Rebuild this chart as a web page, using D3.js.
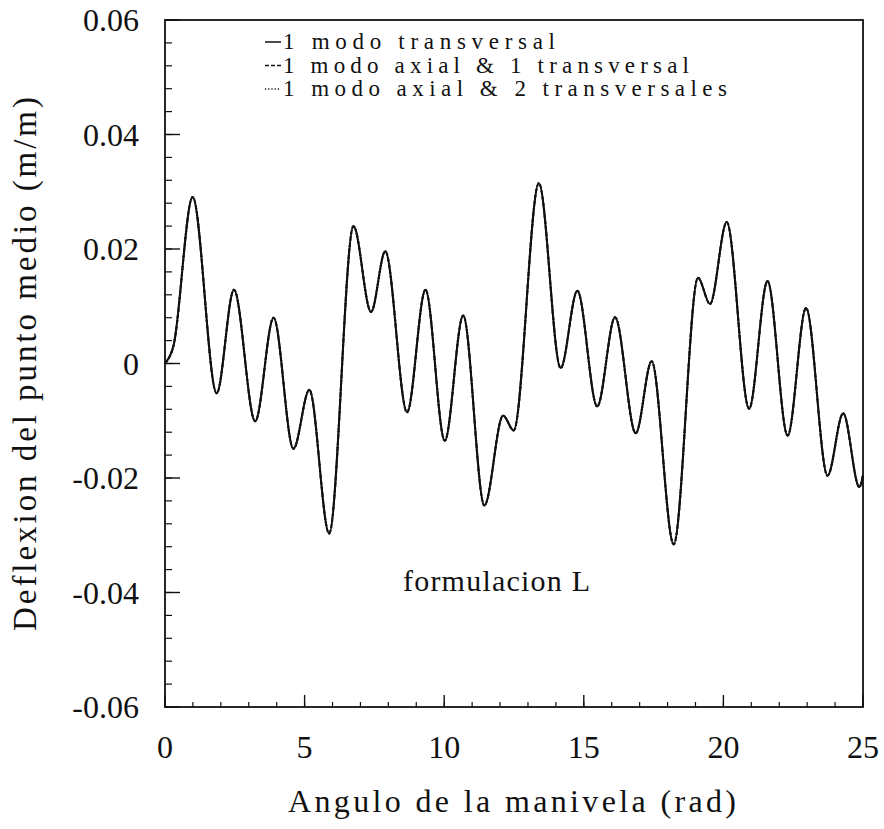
<!DOCTYPE html>
<html>
<head>
<meta charset="utf-8">
<script src="https://cdn.jsdelivr.net/npm/d3@7"></script>
<style>
  html, body { margin: 0; padding: 0; background: #fff; }
  svg { display: block; }
</style>
</head>
<body>
<div id="chart"></div>
<script>
// ----- DATA -----
const angle = [0, 0.30, 0.99, 1.85, 2.47, 3.23, 3.89, 4.60, 5.17, 5.88,
  6.75, 7.38, 7.89, 8.67, 9.33, 10.02, 10.68, 11.44, 12.11, 12.49,
  13.39, 14.17, 14.77, 15.48, 16.12, 16.86, 17.43, 18.22, 19.09, 19.52,
  20.12, 20.92, 21.58, 22.30, 22.96, 23.73, 24.29, 24.87, 25.0];
const deflexion = [0, 0.0030, 0.0291, -0.0052, 0.0129, -0.0101, 0.0080, -0.0149, -0.0046, -0.0297,
  0.0240, 0.0090, 0.0196, -0.0085, 0.0129, -0.0135, 0.0084, -0.0248, -0.0091, -0.0117,
  0.0315, -0.0008, 0.0127, -0.0075, 0.0081, -0.0122, 0.0004, -0.0316, 0.0150, 0.0104,
  0.0247, -0.0079, 0.0144, -0.0126, 0.0097, -0.0196, -0.0087, -0.0216, -0.0195];

// the three curves lie on top of each other in the figure
const seriesNames = ["1 modo transversal", "1 modo axial & 1 transversal", "1 modo axial & 2 transversales"];
const seriesDash = [null, "4,2", "1.2,2"];

const xTicks = [0, 5, 10, 15, 20, 25];
const yTicks = [-0.06, -0.04, -0.02, 0, 0.02, 0.04, 0.06];

const W = 884, H = 829;
const margin = {left: 165, right: 21, top: 20, bottom: 122};
const FONT = "'Liberation Serif', 'Times New Roman', Tinos, 'DejaVu Serif', serif";

const svg = d3.select("#chart").append("svg")
    .attr("width", W).attr("height", H)
    .attr("font-family", FONT)
    .style("font-family", FONT);

const x = d3.scaleLinear().domain([0, 25]).range([margin.left, W - margin.right]);
const y = d3.scaleLinear().domain([-0.06, 0.06]).range([H - margin.bottom, margin.top]);

// minor + major ticks, pointing inward
const xMinor = d3.range(0, 25.001, 1);
const yMinor = d3.range(-0.06, 0.0601, 0.004);

const ax = svg.append("g").attr("stroke", "#111");
ax.selectAll(".xmin").data(xMinor).enter().append("line")
    .attr("x1", d => x(d)).attr("x2", d => x(d))
    .attr("y1", y(-0.06)).attr("y2", y(-0.06) - 5)
    .attr("stroke-width", 1.2);
ax.selectAll(".xmaj").data(xTicks).enter().append("line")
    .attr("x1", d => x(d)).attr("x2", d => x(d))
    .attr("y1", y(-0.06)).attr("y2", y(-0.06) - 12)
    .attr("stroke-width", 1.4);
ax.selectAll(".ymin").data(yMinor).enter().append("line")
    .attr("x1", x(0)).attr("x2", x(0) + 7)
    .attr("y1", d => y(d)).attr("y2", d => y(d))
    .attr("stroke-width", 1.2);
ax.selectAll(".ymaj").data(yTicks).enter().append("line")
    .attr("x1", x(0)).attr("x2", x(0) + 15)
    .attr("y1", d => y(d)).attr("y2", d => y(d))
    .attr("stroke-width", 1.4);

// frame
svg.append("rect")
    .attr("x", x(0)).attr("y", y(0.06))
    .attr("width", x(25) - x(0)).attr("height", y(-0.06) - y(0.06))
    .attr("fill", "none").attr("stroke", "#111").attr("stroke-width", 1.8);

// tick labels
svg.selectAll(".xl").data(xTicks).enter().append("text")
    .attr("x", d => x(d)).attr("y", 758)
    .attr("text-anchor", "middle").attr("font-size", 32).attr("fill", "#111")
    .text(d => d);
svg.selectAll(".yl").data(yTicks).enter().append("text")
    .attr("x", 139).attr("y", d => y(d)).attr("dy", "0.35em")
    .attr("text-anchor", "end").attr("font-size", 32).attr("fill", "#111")
    .text(d => d === 0 ? "0" : d.toFixed(2));

// axis titles
svg.append("text")
    .attr("x", 512).attr("y", 812)
    .attr("text-anchor", "middle").attr("font-size", 32).attr("fill", "#111")
    .attr("textLength", 448).attr("lengthAdjust", "spacing")
    .text("Angulo de la manivela (rad)");
svg.append("text")
    .attr("transform", "translate(36,364) rotate(-90)")
    .attr("text-anchor", "middle").attr("font-size", 33).attr("fill", "#111")
    .attr("textLength", 534).attr("lengthAdjust", "spacing")
    .text("Deflexion del punto medio (m/m)");

// annotation
svg.append("text")
    .attr("x", 403).attr("y", 591)
    .attr("font-size", 30).attr("fill", "#111")
    .attr("textLength", 187).attr("lengthAdjust", "spacing")
    .text("formulacion L");

// curves
const pts = angle.map((a, i) => [a, deflexion[i]]);
const line = d3.line()
    .x(d => x(d[0])).y(d => y(d[1]))
    .curve(d3.curveMonotoneX);

seriesNames.forEach((name, i) => {
  svg.append("path")
      .datum(pts)
      .attr("fill", "none")
      .attr("stroke", "#111")
      .attr("stroke-width", 2)
      .attr("stroke-dasharray", seriesDash[i])
      .attr("d", line);
});

// legend
const legEnds = [555, 689, 727];
const leg = svg.append("g");
seriesNames.forEach((name, i) => {
  const by = 49 + i * 23.5;
  leg.append("line")
      .attr("x1", 265).attr("x2", 281)
      .attr("y1", by - 7).attr("y2", by - 7)
      .attr("stroke", "#111").attr("stroke-width", 1.5)
      .attr("stroke-dasharray", seriesDash[i]);
  leg.append("text")
      .attr("x", 283).attr("y", by)
      .attr("font-size", 23).attr("fill", "#111")
      .attr("textLength", legEnds[i] - 283).attr("lengthAdjust", "spacing")
      .text(name);
});
</script>
</body>
</html>
